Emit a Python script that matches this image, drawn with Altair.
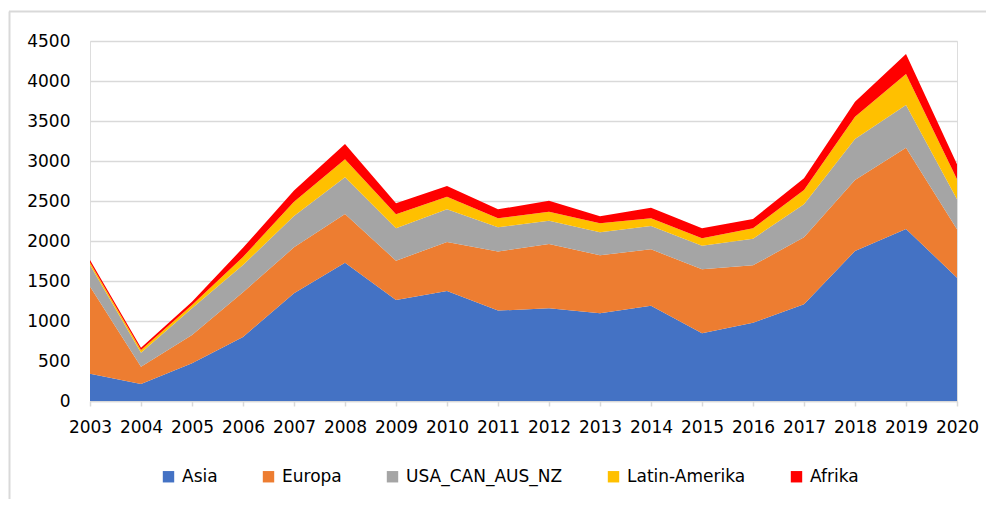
import altair as alt
import pandas as pd

years = list(range(2003, 2021))
regions = ["Asia", "Europa", "USA_CAN_AUS_NZ", "Latin-Amerika", "Afrika"]
colors = ["#4472C4", "#ED7D31", "#A5A5A5", "#FFC000", "#FF0000"]

asia = [340, 212, 471, 800, 1346, 1729, 1262, 1375, 1130, 1158, 1096, 1192, 846, 979, 1208, 1875, 2150, 1542]
europa = [1090, 217, 354, 560, 575, 608, 492, 612, 740, 804, 725, 704, 800, 717, 838, 887, 1017, 604]
usa = [270, 175, 333, 340, 391, 459, 404, 409, 301, 292, 287, 291, 294, 333, 412, 513, 533, 375]
latin = [30, 33, 42, 100, 180, 225, 175, 158, 112, 113, 113, 96, 93, 129, 179, 279, 388, 250]
afrika = [32, 28, 41, 115, 138, 191, 138, 133, 113, 137, 89, 134, 125, 117, 146, 187, 250, 187]

y_ticks = list(range(0, 4501, 500))

series = [asia, europa, usa, latin, afrika]
rows = []
for i, (name, vals) in enumerate(zip(regions, series)):
    for yr, v in zip(years, vals):
        rows.append({"year": yr, "value": v, "region": name, "idx": i})
df = pd.DataFrame(rows)

FONT = "DejaVu Sans"
GRID = "#D9D9D9"

area = alt.Chart(df).mark_area(opacity=1).encode(
    x=alt.X(
        "year:Q",
        scale=alt.Scale(domain=[2003, 2020], nice=False, zero=False),
        axis=alt.Axis(
            values=years, format="d", title=None, grid=False,
            domainColor=GRID, domainWidth=1.5, tickColor=GRID, tickSize=5, tickWidth=1.5,
            labelFont=FONT, labelFontSize=17, labelColor="#000000", labelPadding=13,
            labelOverlap=False, labelBound=False, labelFlush=False,
        ),
    ),
    y=alt.Y(
        "value:Q",
        stack="zero",
        scale=alt.Scale(domain=[0, 4500], nice=False),
        axis=alt.Axis(
            values=y_ticks, format="d", title=None, domain=False, ticks=False,
            gridColor=GRID, gridWidth=1.5,
            labelFont=FONT, labelFontSize=17, labelColor="#000000", labelPadding=20,
        ),
    ),
    color=alt.Color(
        "region:N",
        scale=alt.Scale(domain=regions, range=colors),
        legend=alt.Legend(
            title=None, orient="none", legendX=70, legendY=427, direction="horizontal",
            symbolType="square", symbolSize=130, symbolStrokeWidth=0,
            labelFont=FONT, labelFontSize=17, labelColor="#000000",
            columnPadding=42, labelOffset=5, padding=0,
        ),
    ),
    order=alt.Order("idx:Q", sort="ascending"),
)

dummy = pd.DataFrame({"a": [0]})
left_border = alt.Chart(dummy).mark_rule(color=GRID, strokeWidth=2).encode(
    x=alt.value(-80.5), y=alt.value(-29.5), y2=alt.value(470)
)
top_border = alt.Chart(dummy).mark_rule(color=GRID, strokeWidth=2).encode(
    x=alt.value(-81), x2=alt.value(910), y=alt.value(-29.5)
)

chart = alt.layer(area, left_border, top_border).properties(
    width=867, height=360,
    autosize=alt.AutoSizeParams(type="none"),
    padding={"left": 82, "top": 33, "right": 29, "bottom": 98},
).configure_view(stroke=None).configure(background="white")

chart.save("out.html", embed_options={"renderer": "svg", "actions": False})
